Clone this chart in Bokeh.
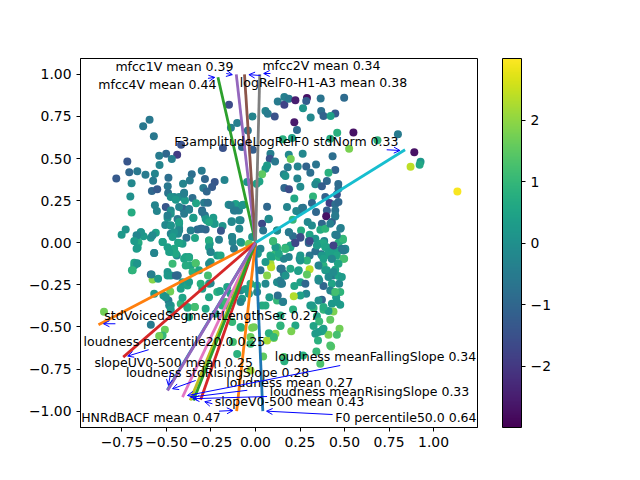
from bokeh.core.properties import value
from bokeh.embed import file_html
from bokeh.models import (Arrow, ColorBar, ColumnDataSource, FixedTicker,
                          LinearColorMapper, OpenHead, Range1d)
from bokeh.palettes import Viridis256
from bokeh.plotting import figure
from bokeh.resources import INLINE

# scores
ul_x = [-0.149,-0.595,-0.631,-0.571,-0.418,-0.183,-0.44,-0.502,-0.541,-0.47,-0.72,-0.539,-0.709,-0.664,-0.618,-0.782,-0.565,-0.489,-0.575,-0.358,
        -0.302,-0.369,-0.284,-0.229,-0.174,-0.696,-0.493,-0.407,-0.293,-0.244,-0.582,-0.552,-0.491,-0.401,-0.274,-0.703,-0.457,-0.429,-0.354,-0.396,
        -0.334,-0.289,-0.267,-0.565,-0.504,-0.554,-0.409,-0.476,-0.696,-0.373,-0.401,-0.3,-0.476,-0.494,-0.349,-0.284,-0.237,-0.274,-0.438,-0.429,
        -0.507,-0.476,-0.229,-0.429,-0.185,-0.194,-0.729,-0.752,-0.644,-0.666,-0.629,-0.56,-0.588,-0.578,-0.476,-0.435,-0.326,-0.302,-0.28,-0.388,
        -0.34,-0.672,-0.657,-0.521,-0.466,-0.435,-0.41,-0.261,-0.257,-0.132,-0.129,-0.08,-0.019,0.037,0.043,0.099,-0.151,-0.112,-0.069,0.065,
        -0.121,-0.093,-0.134,-0.084,0.073,-0.103,-0.138,-0.043,-0.017,-0.076,-0.015,0.056,0.069,0.108,0.125,0.162,0.162,0.084,0.153,0.08,
        0.065,0.056,0.037,0.022,0.006,-0.047,0.159,0.181,0.162,0.188]
ul_y = [0.82,0.731,0.691,0.632,0.582,0.562,0.523,0.529,0.517,0.497,0.483,0.461,0.418,0.424,0.404,0.382,0.41,0.386,0.368,0.406,
        0.428,0.37,0.378,0.36,0.372,0.354,0.335,0.35,0.325,0.331,0.307,0.317,0.295,0.297,0.305,0.275,0.271,0.271,0.265,0.251,
        0.234,0.238,0.238,0.222,0.212,0.188,0.204,0.192,0.18,0.2,0.172,0.192,0.172,0.147,0.147,0.162,0.149,0.133,0.141,0.113,
        0.105,0.103,0.113,0.087,0.099,0.071,0.079,0.048,0.063,0.042,0.038,0.059,0.03,0.044,0.053,0.053,0.079,0.083,0.079,0.03,
        0.028,0.008,0.0,0.004,0.044,0.0,-0.006,0.014,-0.006,0.034,0.004,0.0,0.034,0.113,0.073,0.008,0.226,0.23,0.226,0.214,
        0.192,0.192,0.127,0.133,0.139,0.711,0.683,0.667,0.75,0.568,0.552,0.782,0.766,0.749,0.838,0.865,0.82,0.529,0.614,0.499,
        0.459,0.44,0.406,0.364,0.35,0.36,0.406,0.448,0.325,0.317]
ul_c = [-1.6,-0.6,-0.6,-0.6,-1.5,-1.5,-1.9,-1.0,-0.5,-0.4,-1.4,-0.3,-1.0,-0.6,-0.5,-1.3,-0.3,-0.8,-0.5,-0.8,
        -0.5,-0.5,-1.0,-1.4,-0.3,-0.2,-0.6,-0.3,-0.5,-1.3,-1.0,-1.3,-0.7,-0.6,-1.0,0.0,-0.2,-0.1,-0.8,0.3,
        0.5,-0.5,-0.8,-0.3,-1.4,-0.3,-1.0,-0.2,0.7,-0.7,-0.5,-1.0,0.1,0.1,0.5,-0.7,0.3,0.5,-0.5,0.2,
        -0.2,-0.5,0.4,0.1,0.1,-1.4,0.1,0.2,0.2,-0.5,0.3,0.4,0.1,-0.1,-0.3,-0.1,-0.9,-1.2,-1.0,-0.8,
        0.5,0.1,0.7,0.3,-0.3,0.4,0.3,0.8,0.2,0.3,-0.3,0.9,0.1,-1.7,-0.7,1.2,-0.1,0.4,0.6,-1.0,
        -0.5,-0.3,-0.1,-0.5,-0.3,-0.4,-0.4,-0.7,-0.3,-1.0,-1.2,-0.3,-0.5,-1.5,-0.5,-0.4,-1.8,-0.4,0.8,-1.5,
        0.3,0.2,1.5,0.5,0.4,0.1,-0.3,-0.5,-1.0,-1.6]

ur_x = [0.187,0.224,0.289,0.285,0.366,0.498,0.267,0.369,0.382,0.448,0.422,0.31,0.218,0.233,0.55,0.459,0.8,0.205,0.42,0.685,
        0.526,0.892,0.927,0.922,0.871,1.134,0.187,0.265,0.433,0.198,0.11,0.237,0.285,0.34,0.448,0.308,0.41,0.168,0.235,0.345,
        0.336,0.465,0.401,0.373,0.252,0.466,0.323,0.218,0.392,0.457,0.416,0.448,0.466,0.261,0.177,0.317,0.243,0.34,0.401,0.448,
        0.397,0.448,0.209,0.293,0.317,0.373,0.429,0.479,0.364,0.392,0.448,0.491,0.188,0.256,0.211,0.252,0.304,0.336,0.386,0.22,
        0.121,0.299,0.466,0.168,0.196,0.364,0.401,0.504]
ur_y = [0.855,0.846,0.859,0.842,0.857,0.861,0.798,0.782,0.752,0.768,0.752,0.743,0.715,0.669,0.655,0.653,0.644,0.622,0.618,0.608,
        0.558,0.537,0.481,0.463,0.451,0.305,0.523,0.529,0.513,0.497,0.483,0.453,0.453,0.465,0.432,0.416,0.416,0.396,0.382,0.36,
        0.347,0.349,0.366,0.335,0.333,0.321,0.275,0.263,0.271,0.287,0.236,0.228,0.242,0.206,0.212,0.236,0.182,0.182,0.192,0.192,
        0.158,0.156,0.137,0.123,0.103,0.113,0.123,0.087,0.077,0.083,0.048,0.018,0.063,0.073,0.038,0.03,0.048,0.024,0.01,-0.002,
        0.073,0.01,0.0,-0.03,-0.026,-0.006,-0.026,-0.036]
ur_c = [-0.6,-2.5,-2.7,-1.2,-0.7,-0.9,0.1,-0.8,-1.1,-1.3,0.4,-0.2,-2.6,-0.9,-2.7,0.8,-0.5,0.4,0.7,0.9,
        1.8,-2.7,0.2,0.6,2.4,2.95,-0.2,-0.2,-0.8,1.7,-0.6,-0.3,-1.1,-0.7,-1.1,-0.8,0.8,0.1,-0.3,0.3,
        -0.2,-0.9,-1.0,-1.2,-0.1,-0.9,0.9,0.6,-1.1,-1.5,-1.9,-0.8,-1.0,-0.3,-0.3,-1.0,-0.8,-1.0,-1.2,-0.7,
        -2.7,-0.3,1.0,-0.2,-0.1,-1.0,-1.1,-0.3,0.7,0.9,-0.3,0.8,0.2,0.7,-0.8,-1.2,0.5,0.1,-0.3,-1.9,
        0.5,0.2,0.9,0.8,0.4,0.4,0.5,-0.4]

ll_x = [-0.662,-0.569,-0.476,-0.457,-0.442,-0.392,-0.373,-0.336,-0.252,-0.215,-0.364,-0.664,-0.681,-0.694,-0.588,-0.578,-0.547,-0.494,-0.476,-0.438,
        -0.41,-0.382,-0.479,-0.517,-0.489,-0.476,-0.42,-0.382,-0.341,-0.373,-0.851,-0.588,-0.509,-0.522,-0.252,-0.215,-0.159,-0.261,-0.299,-0.261,
        -0.187,-0.121,-0.084,-0.159,-0.056,-0.028,-0.08,-0.019,-0.127,-0.028,0.093,0.131,0.084,0.121,0.028,0.065,0.14,0.159,0.056,0.121,
        0.14,0.009,0.078,0.121,0.153,0.14,0.112,-0.028,-0.103,0.159,0.103,0.065]
ll_y = [-0.03,-0.061,-0.055,-0.046,-0.075,-0.085,-0.085,-0.121,-0.055,-0.075,-0.135,-0.121,-0.135,-0.164,-0.188,-0.218,-0.214,-0.174,-0.194,-0.194,
        -0.234,-0.254,-0.289,-0.313,-0.343,-0.372,-0.362,-0.382,-0.382,-0.442,-0.41,-0.487,-0.517,-0.55,-0.115,-0.293,-0.263,-0.244,-0.273,-0.323,
        -0.372,-0.313,-0.283,-0.372,-0.274,-0.244,-0.505,-0.505,-0.59,-0.758,-0.085,-0.085,-0.125,-0.046,-0.164,-0.194,-0.154,-0.184,-0.244,-0.234,
        -0.244,-0.293,-0.323,-0.343,-0.352,-0.432,-0.541,-0.6,-0.66,-0.679,-0.55,-0.58]
ll_c = [0.4,-0.2,0.2,0.1,-0.1,0.5,0.3,1.0,0.5,0.3,0.6,-0.1,0.3,0.6,-1.4,1.9,0.2,0.1,0.2,-1.0,
        0.3,0.5,1.7,0.2,-0.5,0.3,1.0,0.9,1.0,0.5,1.7,-0.5,1.6,1.0,0.4,0.8,0.5,0.6,0.3,0.5,
        0.8,0.6,-0.2,1.0,0.3,0.6,1.2,1.8,1.2,2.2,0.5,0.8,2.2,0.6,-0.7,1.9,-0.6,-0.3,-0.2,-0.1,
        0.0,-0.3,0.3,1.0,0.2,0.7,1.9,1.0,0.8,1.3,2.0,2.2]

lr_x = [0.299,0.382,0.504,0.425,0.466,0.485,0.121,0.168,0.196,0.084,0.112,0.187,0.248,0.304,0.336,0.369,0.392,0.41,0.429,0.498,
        0.289,0.463,0.146,0.168,0.088,0.239,0.304,0.289,0.364,0.382,0.401,0.448,0.435,0.466,0.14,0.149,0.358,0.429,0.382,0.252,
        0.28,0.218,0.47,0.476,0.438,0.453,0.285,0.252,0.215,0.125,0.155,0.373,0.354,0.429,0.308,0.476,0.326,0.382,0.211,0.438,
        0.41,0.345,0.358,0.42,0.14,0.224,0.201,0.103,0.326,0.336,0.377,0.472,0.457,0.41,0.373,0.351,0.425,0.342,0.267,0.162,0.364]
lr_y = [-0.002,-0.002,-0.042,-0.046,-0.046,-0.036,-0.026,-0.036,-0.016,-0.075,-0.065,-0.085,-0.095,-0.075,-0.05,-0.069,-0.075,-0.069,-0.095,-0.095,
        -0.105,-0.121,-0.154,-0.194,-0.145,-0.168,-0.158,-0.188,-0.135,-0.135,-0.164,-0.16,-0.194,-0.198,-0.224,-0.244,-0.224,-0.244,-0.257,-0.234,
        -0.244,-0.257,-0.244,-0.293,-0.293,-0.323,-0.303,-0.313,-0.317,-0.313,-0.35,-0.339,-0.343,-0.362,-0.372,-0.368,-0.388,-0.398,-0.396,-0.408,
        -0.406,-0.436,-0.467,-0.457,-0.495,-0.491,-0.525,-0.566,-0.495,-0.541,-0.517,-0.511,-0.547,-0.547,-0.525,-0.58,-0.616,-0.646,-0.669,-0.703,-0.719]
lr_c = [-1.0,0.6,-0.1,0.3,0.4,-0.5,0.8,1.0,0.5,0.7,1.0,-0.3,-0.1,-0.6,-0.8,-0.9,0.3,0.4,-0.1,1.2,
        0.9,0.5,-1.2,-1.5,2.4,0.3,2.4,1.5,-1.0,0.8,0.3,0.5,-0.5,0.4,-0.4,-0.5,-0.4,0.5,-1.0,0.4,
        -1.0,0.5,-0.2,0.9,1.2,0.3,-0.2,0.4,2.3,-0.8,-0.4,-1.0,0.0,0.2,0.3,0.3,0.9,0.9,0.8,1.8,
        0.3,0.6,1.0,1.5,1.0,0.6,1.8,1.8,0.5,0.3,0.7,1.7,1.2,1.8,0.5,0.8,1.5,1.0,0.8,0.8,1.3]

# second pass over the dense middle, left then right
mid_left_x = [-0.476,-0.448,-0.401,-0.429,-0.494,-0.476,-0.429,-0.429,-0.457,-0.466,
              -0.429,-0.457,-0.448,-0.485,-0.466,-0.401,-0.373,-0.336,-0.392,-0.354,
              -0.317,-0.261,-0.261,-0.252,-0.196,-0.205,-0.131,-0.121,-0.084,-0.037,
              -0.261,-0.267,-0.438,-0.584,-0.681,-0.666,-0.69,-0.644,-0.668,-0.681,
              -0.668,-0.569,-0.522,-0.494,-0.364,-0.308,-0.28,-0.233,-0.261,-0.373,
              -0.299,-0.349,-0.134,-0.091,-0.091,-0.14,-0.112,-0.075,
              -0.448,-0.494,-0.42,-0.373,-0.308,-0.252,-0.2,-0.14,-0.075,-0.084,
              -0.037,-0.41,-0.382,-0.341,-0.28,-0.224,-0.168,-0.131,-0.084,-0.504,
              -0.485,-0.476,-0.541,-0.569]
mid_left_y = [0.271,0.255,0.291,0.212,0.162,0.103,0.123,0.073,0.063,0.034,
              -0.002,-0.036,-0.065,-0.055,-0.125,-0.095,-0.089,-0.121,-0.135,-0.174,
              -0.164,0.014,-0.026,-0.055,-0.075,0.018,0.034,-0.036,0.004,-0.006,
              -0.125,-0.194,-0.194,-0.188,-0.119,-0.125,-0.164,0.063,0.044,0.01,
              -0.036,-0.061,0.004,-0.026,0.073,0.083,0.143,0.113,0.123,0.196,
              0.182,0.149,0.123,0.133,0.083,0.222,0.192,0.222,
              -0.194,-0.194,-0.273,-0.233,-0.244,-0.24,-0.287,-0.303,-0.333,-0.352,
              -0.303,-0.327,-0.386,-0.382,-0.392,-0.422,-0.352,-0.471,-0.501,-0.323,
              -0.372,-0.398,-0.554,-0.303]
mid_left_c = [0.0,0.2,-0.4,-0.3,-0.4,0.1,0.4,-0.2,0.1,0.3,
              0.5,0.6,0.6,0.4,1.1,0.5,0.6,1.3,0.7,0.8,
              0.5,0.7,0.3,-0.3,0.6,-0.4,-0.3,-0.5,0.2,1.6,
              -0.1,1.2,-0.8,-0.4,0.5,0.1,0.9,0.1,-0.3,0.3,
              0.3,-0.3,0.4,0.4,-0.4,-0.9,0.2,0.2,0.6,-0.4,
              -0.7,0.3,-0.2,-0.2,-0.2,-0.4,-0.5,0.1,
              -1.0,0.2,0.4,0.3,0.8,-0.2,0.5,0.4,0.2,-0.3,
              0.3,0.5,0.7,1.2,0.6,0.4,1.1,1.0,0.7,0.1,
              -0.1,0.2,1.7,0.2]

mid_right_x = [0.42,0.448,0.494,0.476,0.491,0.438,0.392,0.41,0.429,0.457,
               0.373,0.382,0.429,0.494,0.466,0.354,0.438,0.392,0.41,0.243,
               0.252,0.252,0.159,0.131,0.088,0.112,0.168,0.224,0.252,0.304,
               0.345,0.099,0.028,0.013,0.056,0.196,0.146,0.168,0.354,0.485,
               0.457,0.476,0.075,0.187,0.121,0.229,0.267,
               0.354,0.42,0.448,0.317,0.382,0.457,0.354,0.382,0.42,-0.009,
               0.075,0.103,0.043,0.14,0.056,0.037,0.009,-0.028]
mid_right_y = [0.113,0.162,-0.046,0.014,0.024,-0.016,-0.026,-0.055,-0.065,-0.075,
               -0.075,-0.095,-0.095,-0.095,-0.125,-0.135,-0.174,-0.164,-0.204,-0.164,
               -0.105,-0.075,-0.095,-0.065,-0.081,-0.026,-0.036,-0.002,0.034,0.01,
               -0.016,0.01,-0.036,-0.065,-0.115,-0.154,-0.154,-0.194,-0.214,-0.204,
               0.044,0.083,0.143,0.063,0.073,0.188,0.208,
               -0.224,-0.284,-0.293,-0.373,-0.382,-0.352,-0.53,-0.511,-0.61,-0.501,
               -0.537,-0.56,-0.675,-0.491,-0.372,-0.372,-0.254,-0.56]
mid_right_c = [-0.4,-0.5,-0.5,0.7,1.0,-1.8,0.5,0.4,0.4,0.5,
               0.2,0.4,-0.2,1.2,0.5,-0.3,-0.1,0.3,-0.1,0.4,
               0.1,0.2,-0.3,0.6,0.5,0.3,1.0,-1.7,-1.6,-1.7,
               0.3,1.1,-0.3,0.2,0.2,0.6,-0.7,0.1,0.3,0.3,
               -0.5,-0.4,-0.1,-0.6,-0.1,-0.2,-0.7,
               -0.1,-0.3,1.2,0.3,0.7,0.2,0.3,0.4,1.3,1.7,
               0.8,1.0,1.5,0.9,0.7,0.7,0.6,1.6]

# loadings, in plotting order
features = ["F0 percentile50.0 0.64", "HNRdBACF mean 0.47", "mfcc4V mean 0.44", "slopeV0-500 mean 0.43",
            "mfcc1V mean 0.39", "logRelF0-H1-A3 mean 0.38", "loudness meanFallingSlope 0.34", "mfcc2V mean 0.34",
            "loudness meanRisingSlope 0.33", "F3amplitudeLogRelF0 stdNorm 0.33", "loudness stdRisingSlope 0.28",
            "stdVoicedSegmentLengthSec 0.27", "loudness mean 0.27", "loudness percentile20.0 0.25", "slopeUV0-500 mean 0.25"]
load_x = [0.041,-0.106,-0.211,-0.308,-0.108,-0.062,-0.41,0.024,-0.367,0.84,-0.495,-0.882,-0.349,-0.743,-0.494]
load_y = [-1.0,-1.0,0.983,-0.932,1.0,1.0,-0.917,1.0,-0.936,0.552,-0.874,-0.487,-0.937,-0.679,-0.877]
line_colors = ["#1f77b4","#ff7f0e","#2ca02c","#d62728","#9467bd","#8c564b","#e377c2","#7f7f7f","#bcbd22","#17becf",
               "#1f77b4","#ff7f0e","#2ca02c","#d62728","#9467bd"]
label_x = [0.448,-0.979,-0.883,-0.229,-0.787,-0.088,0.108,0.039,0.08,-0.457,-0.728,-0.849,-0.164,-0.966,-0.905]
label_y = [-1.037,-1.037,0.939,-0.942,1.048,0.953,-0.675,1.053,-0.883,0.602,-0.769,-0.431,-0.829,-0.586,-0.71]
arrow_x0 = [0.433,-0.205,-0.267,-0.242,-0.164,0.028,0.476,0.084,0.065,0.737,-0.336,-0.787,-0.046,-0.6,-0.476]
arrow_y0 = [-1.02,-1.0,0.976,-0.956,1.005,0.993,-0.729,1.005,-0.913,0.552,-0.818,-0.481,-0.876,-0.635,-0.768]
arrow_x1 = [0.062,-0.127,-0.229,-0.285,-0.13,-0.037,-0.382,0.046,-0.349,0.811,-0.466,-0.854,-0.364,-0.718,-0.489]
arrow_y1 = [-1.0,-0.996,0.982,-0.944,0.998,0.998,-0.907,1.005,-0.926,0.548,-0.867,-0.481,-0.917,-0.673,-0.847]

x_ticks = [-0.75,-0.5,-0.25,0.0,0.25,0.5,0.75,1.0]
x_tick_labels = ["−0.75","−0.50","−0.25","0.00","0.25","0.50","0.75","1.00"]
y_ticks = [-1.0,-0.75,-0.5,-0.25,0.0,0.25,0.5,0.75,1.0]
y_tick_labels = ["−1.00","−0.75","−0.50","−0.25","0.00","0.25","0.50","0.75","1.00"]
cbar_ticks = [-2,-1,0,1,2]
cbar_labels = ["−2","−1","0","1","2"]

FONT = "DejaVu Sans"
TICK_SIZE = "13.9px"
LABEL_SIZE = "12.5px"

p = figure(frame_width=397, frame_height=369, output_backend="svg", toolbar_location=None,
           x_range=Range1d(-0.983, 1.247), y_range=Range1d(-1.097, 1.094),
           min_border_left=80, min_border_top=58, min_border_bottom=45, min_border_right=4)
p.grid.visible = False
p.outline_line_color = "black"
p.background_fill_color = "white"

for ax, ticks, labels in ((p.xaxis[0], x_ticks, x_tick_labels), (p.yaxis[0], y_ticks, y_tick_labels)):
    ax.ticker = FixedTicker(ticks=ticks)
    ax.major_label_overrides = dict(zip(ticks, labels))
    ax.major_label_text_font = FONT
    ax.major_label_text_font_size = TICK_SIZE
    ax.major_label_text_color = "black"
    ax.major_tick_in = 0
    ax.major_tick_out = 4
    ax.minor_tick_line_color = None
    ax.axis_line_color = "black"
    ax.major_tick_line_color = "black"

mapper = LinearColorMapper(palette=Viridis256, low=-3, high=3)

scores = ColumnDataSource(dict(x=ul_x + ur_x + ll_x + lr_x + mid_left_x + mid_right_x,
                               y=ul_y + ur_y + ll_y + lr_y + mid_left_y + mid_right_y,
                               c=ul_c + ur_c + ll_c + lr_c + mid_left_c + mid_right_c))
p.scatter("x", "y", source=scores, size=8, line_color=None,
          fill_color={"field": "c", "transform": mapper})

for lx, ly, col in zip(load_x, load_y, line_colors):
    p.line([0, lx], [0, ly], line_color=col, line_width=2.8)

p.text(label_x, label_y, text=features, text_font=value(FONT), text_font_size=value(LABEL_SIZE),
       text_color="black", text_baseline="middle", text_align="left")

for x0, y0, x1, y1 in zip(arrow_x0, arrow_y0, arrow_x1, arrow_y1):
    p.add_layout(Arrow(x_start=x0, y_start=y0, x_end=x1, y_end=y1, line_color="blue", line_width=1,
                       end=OpenHead(size=6, line_color="blue", line_width=1)))

cbar = ColorBar(color_mapper=mapper, width=19, height=369, padding=0, margin=0, location=(25, 0),
                ticker=FixedTicker(ticks=cbar_ticks),
                major_label_overrides=dict(zip(cbar_ticks, cbar_labels)),
                major_label_text_font=FONT, major_label_text_font_size=TICK_SIZE,
                major_label_text_color="black",
                major_tick_in=0, major_tick_out=4, major_tick_line_color="black",
                bar_line_color="black", border_line_color=None, background_fill_color=None)
p.add_layout(cbar, "right")

open("out.html", "w").write(file_html(p, INLINE))
